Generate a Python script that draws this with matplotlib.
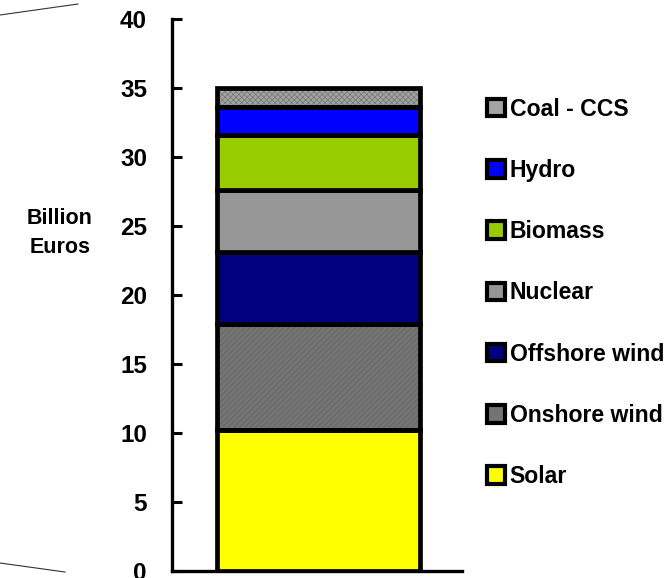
import matplotlib
matplotlib.use("Agg")
import matplotlib.pyplot as plt
from matplotlib.patches import Patch
from matplotlib.lines import Line2D

plt.rcParams['font.family'] = ['Liberation Sans', 'DejaVu Sans']
plt.rcParams['font.weight'] = 'bold'
plt.rcParams['hatch.linewidth'] = 0.6

# investment by technology, billion euros (bottom to top)
techs = ['Solar', 'Onshore wind', 'Offshore wind', 'Nuclear', 'Biomass', 'Hydro', 'Coal - CCS']
values = [10.2, 7.7, 5.2, 4.5, 4.0, 2.0, 1.4]
colors = ['#ffff00', '#747474', '#000080', '#969696', '#99cc00', '#0000ff', '#a4a4a4']
hatches = [None, '//////', None, None, None, None, 'xxxxxx']
hatch_cols = [None, '#666666', None, None, None, None, '#7a7a7a']
yticks = [0, 5, 10, 15, 20, 25, 30, 35, 40]

fig = plt.figure(figsize=(6.71, 5.78), dpi=100)
ax = fig.add_axes([0.2563, 0.0121, 0.4322, 0.955])

bottom = 0
for v, c, h, hc in zip(values, colors, hatches, hatch_cols):
    if h:
        ax.bar(0, v, width=0.7, bottom=bottom, color=c, hatch=h,
               edgecolor=hc, linewidth=0, zorder=2)
    ax.bar(0, v, width=0.7, bottom=bottom, facecolor=c if not h else 'none',
           edgecolor='black', linewidth=3.4, zorder=3)
    bottom += v

ax.set_xlim(-0.505, 0.495)
ax.set_ylim(0, 40)
ax.set_yticks(yticks)
ax.set_xticks([])
ax.tick_params(axis='y', direction='in', length=7, width=2.2, pad=18, labelsize=17.5)
for s in ['top', 'right']:
    ax.spines[s].set_visible(False)
for s in ['left', 'bottom']:
    ax.spines[s].set_linewidth(2.4)

fig.text(60 / 671, 1 - 233 / 578, 'Billion\nEuros', ha='center', va='center',
         fontsize=15.5, fontweight='bold', linespacing=1.45)

handles = [Patch(facecolor=c, edgecolor='black', linewidth=3.0) for c in colors]
leg = fig.legend(handles[::-1], techs[::-1], loc='upper left',
                 bbox_to_anchor=(475 / 671, 1 - 86 / 578), frameon=False,
                 fontsize=16.6, handlelength=0.8, handleheight=0.8,
                 handletextpad=0.2, labelspacing=1.66, borderpad=0)

# stray connector lines on the left edge
fig.add_artist(Line2D([0, 78 / 671], [1 - 15 / 578, 1 - 4 / 578],
                      transform=fig.transFigure, color='#333333', linewidth=0.8))
fig.add_artist(Line2D([0, 65 / 671], [1 - 563 / 578, 1 - 572 / 578],
                      transform=fig.transFigure, color='#333333', linewidth=0.8))

fig.savefig('out.png', dpi=100)
